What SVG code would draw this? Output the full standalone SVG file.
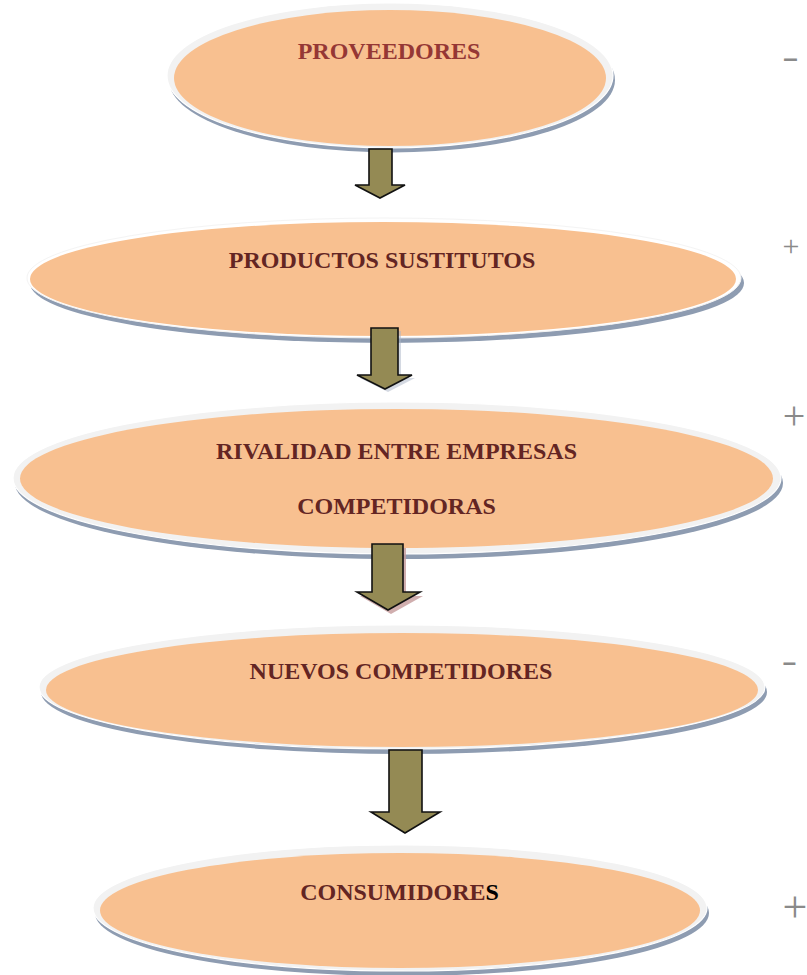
<svg xmlns="http://www.w3.org/2000/svg" width="807" height="975" viewBox="0 0 807 975">
<style>
.sh{fill:#8E9CB1}
.ring{fill:#F2F2F2;stroke:#FFFFFF;stroke-width:1.2}
.ring2{fill:#FFFFFF;stroke:#F4F4F4;stroke-width:1}
.core{fill:#F8C090}
.lbl{font-family:"Liberation Serif","Times New Roman",serif;font-weight:bold;font-size:24px;fill:#632523;text-anchor:middle}
.lbl1{fill:#953735}
.arr{fill:#948A54;stroke:#111111;stroke-width:1.6;stroke-linejoin:miter}
.sign{font-family:"Liberation Serif","Times New Roman",serif;fill:#8A8A8A;text-anchor:middle}
.dash{font-family:"Liberation Sans",Arial,sans-serif;font-weight:bold;fill:#8A8A8A;text-anchor:middle}
</style>
<rect width="807" height="975" fill="#FFFFFF"/>
<g id="n1">
<ellipse class="sh" cx="392" cy="80" rx="223" ry="72.5"/>
<ellipse class="ring" cx="390" cy="75.5" rx="223" ry="72.5"/>
<ellipse class="core" cx="390" cy="78" rx="216" ry="68"/>
<text class="lbl lbl1" x="389" y="59">PROVEEDORES</text>
</g>
<g id="n2">
<ellipse class="sh" cx="387" cy="283" rx="357" ry="60"/>
<ellipse class="ring2" cx="384" cy="278" rx="357" ry="60"/>
<ellipse class="core" cx="383" cy="279" rx="353" ry="57"/>
<text class="lbl" x="382" y="268">PRODUCTOS SUSTITUTOS</text>
</g>
<g id="n3">
<ellipse class="sh" cx="399" cy="483" rx="384" ry="76"/>
<ellipse class="ring" cx="397" cy="478" rx="384" ry="76"/>
<ellipse class="core" cx="396.5" cy="478.5" rx="376.5" ry="69.5"/>
<text class="lbl" x="396.5" y="459">RIVALIDAD ENTRE EMPRESAS</text>
<text class="lbl" x="396.5" y="514">COMPETIDORAS</text>
</g>
<g id="n4">
<ellipse class="sh" cx="404" cy="692" rx="363" ry="62"/>
<ellipse class="ring" cx="402" cy="687" rx="363" ry="62"/>
<ellipse class="core" cx="402" cy="690" rx="356" ry="57"/>
<text class="lbl" x="401" y="679">NUEVOS COMPETIDORES</text>
</g>
<g id="n5">
<ellipse class="sh" cx="402" cy="913" rx="307" ry="63"/>
<ellipse class="ring" cx="400" cy="908" rx="307" ry="63"/>
<ellipse class="core" cx="400" cy="910.5" rx="300" ry="57.5"/>
<text class="lbl" x="399.5" y="900">CONSUMIDORE<tspan fill="#000000">S</tspan></text>
</g>
<g id="connectors">
<path class="arr" d="M369,149 H392 V185 H405 L380,198 L355,185 H369 Z"/>
<path d="M374,331 H401 V378 H415 L388,392 L360,378 H374 Z" fill="#A9B4C6" opacity="0.5"/>
<path class="arr" d="M371,328 H398 V375 H412 L385,389 L357,375 H371 Z"/>
<path d="M375,548 H406 V596 H423 L391,614 L360,596 H375 Z" fill="#C49A9A" opacity="0.8"/>
<path class="arr" d="M372,544 H403 V592 H420 L388,610 L357,592 H372 Z"/>
<path class="arr" d="M389,750 H422 V812 H440 L405,833 L371,812 H389 Z"/>
</g>
<g id="signs">
<text class="dash" x="790.5" y="67" font-size="26">–</text>
<text class="sign" x="791" y="255.5" font-size="30">+</text>
<text class="sign" x="794" y="429" font-size="40">+</text>
<text class="dash" x="789.5" y="670" font-size="24">–</text>
<text class="sign" x="795" y="922" font-size="44">+</text>
</g>
</svg>
